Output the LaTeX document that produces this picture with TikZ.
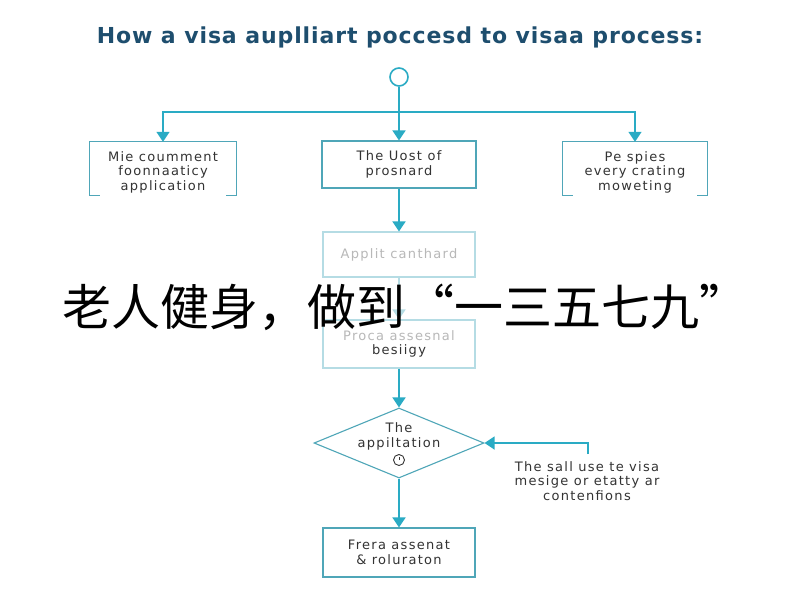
\documentclass[tikz,border=0pt]{standalone}
\usepackage{fontspec}
\setmainfont{DejaVu Sans}[LetterSpace=10]
\newfontfamily\titlefont{DejaVu Sans}[LetterSpace=4]
\newfontfamily\cjk{Noto Sans CJK SC}
\usetikzlibrary{arrows.meta,shapes.geometric}
\definecolor{teal1}{HTML}{2AABC4}
\definecolor{boxc}{HTML}{4FA6B8}
\definecolor{fadeb}{HTML}{B5DCE4}
\definecolor{titlec}{HTML}{1E4E6E}
\definecolor{txt}{HTML}{333333}
\definecolor{fadet}{HTML}{B8B8B8}
\tikzset{
  line/.style={draw=teal1, line width=1.6pt},
  arr/.style={line, -{Triangle[width=13pt,length=10pt]}},
  farr/.style={draw=fadeb, line width=1.6pt, -{Triangle[width=13pt,length=10pt]}},
  bodyfont/.style={font=\fontsize{13}{14.5}\selectfont},
  stepbox/.style={draw=boxc, line width=1.1pt, minimum width=#1, minimum height=48pt, inner sep=0pt, align=center, bodyfont, text=txt},
  openbox/.style={minimum width=#1, minimum height=53pt, inner sep=0pt, align=center, bodyfont, text=txt},
  fadebox/.style={draw=fadeb, line width=1.1pt, minimum width=152pt, inner sep=0pt, align=center, bodyfont, text=fadet},
}
\begin{document}
\begin{tikzpicture}[x=1pt,y=-1pt]
\useasboundingbox[fill=white] (0,0) rectangle (800,600);
% title
\node[font=\titlefont\bfseries\fontsize{22}{26}\selectfont, text=titlec] (title) at (400,37) {How a visa auplliart poccesd to visaa process:};
% start
\node[circle, draw=teal1, line width=1.6pt, minimum size=18pt, inner sep=0pt] (start) at (399,77) {};
\coordinate (split) at (399,112);
% top boxes
\node[openbox=146pt] (b1) at (163,168.5) {};
\node[bodyfont, text=txt, align=center] (b1t) at (163,172) {Mie coumment\\foonnaaticy\\application};
\node[stepbox=154pt, minimum height=47pt] (b2) at (399,164.5) {The Uost of\\prosnard};
\node[openbox=144pt] (b3) at (635,168.5) {};
\node[bodyfont, text=txt, align=center] (b3t) at (635,172) {Pe spies\\every crating\\moweting};
\foreach \b in {b1,b3}{
  \draw[draw=boxc, line width=1.1pt] ([xshift=10pt]\b.south west) -- (\b.south west) -- (\b.north west) -- (\b.north east) -- (\b.south east) -- ([xshift=-10pt]\b.south east);
}
\draw[line] (start.south) -- (split);
\draw[arr] (split) -- (b2.north);
\draw[arr] (split) -| (b1.north);
\draw[arr] (split) -| (b3.north);
% faded boxes
\node[fadebox, minimum height=45pt] (ba) at (399,254.5) {Applit canthard};
\node[fadebox, minimum height=48pt] (bb) at (399,344) {Proca assesnal\\\textcolor{txt}{besiigy}};
\draw[arr] (b2.south) -- (ba.north);
\draw[farr] (ba.south) -- (bb.north);
% diamond
\node[diamond, draw=boxc, line width=1.1pt, minimum width=170pt, minimum height=70pt, inner sep=0pt] (dia) at (399,443) {};
\draw[arr] (bb.south) -- (dia.north);
\node[bodyfont, text=txt] (dt1) at (399,428) {The};
\node[bodyfont, text=txt] (dt2) at (399,444) {appiltation};
\node[circle, draw=txt, line width=0.9pt, minimum size=11pt, inner sep=0pt] (icon) at (399,460) {};
\draw[draw=txt, line width=0.9pt] (icon.center) -- ([yshift=3.5pt]icon.center);
% feedback
\coordinate (fb) at (588,454);
\draw[arr] (fb) |- (dia.east);
\node[align=center, bodyfont, text=txt] (note) at (587,481) {The sall use te visa\\mesige or etatty ar\\contenfions};
% bottom box
\node[stepbox=152pt, minimum height=49pt] (b5) at (399,552.5) {Frera assenat\\\& roluraton};
\draw[arr] (dia.south) -- (b5.north);
% overlay
\node[font=\cjk\fontsize{49}{53}\selectfont, text=black] (ov) at (405,307) {老人健身，做到“一三五七九”};
\end{tikzpicture}
\end{document}
